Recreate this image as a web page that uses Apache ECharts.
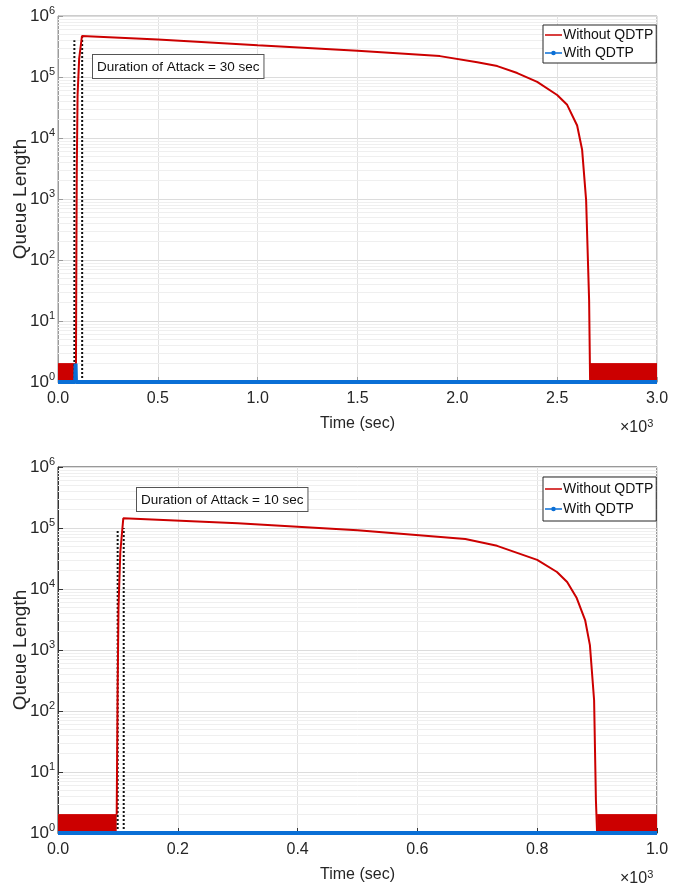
<!DOCTYPE html>
<html><head><meta charset="utf-8">
<script src="https://cdn.jsdelivr.net/npm/echarts@6/dist/echarts.min.js"></script>
<style>html,body{margin:0;padding:0;background:#fff}#c{width:681px;height:888px}</style>
</head><body><div id="c"></div>
<script>
// ---------- DATA (time in seconds, queue length) ----------
// Top chart: attack of 30 sec, x axis 0..3000 s
const topRedCurve = [[90,2],[92,100],[94,3000],[98,50000],[106,200000],[120,470000],[500,410000],[1000,330000],[1500,270000],[1913,220000],[2100,175000],[2200,151000],[2300,116000],[2400,83000],[2500,50700],[2550,35000],[2600,16000],[2625,6400],[2645,960],[2660,22],[2665,1]];
const topRedOsc1 = [[0,2],[90,2]];
const topRedOsc2 = [[2665,2],[3000,2]];
const topBlue = [[0,1],[86,1],[88,2],[90,1],[3000,1]];
const topDot1 = [[82,1],[82,400000]];
const topDot2 = [[121,1],[121,470000]];
// Bottom chart: attack of 10 sec, x axis 0..1000 s
const botRedCurve = [[98,2],[99.5,200],[101,5000],[104,40000],[109,144000],[300,120000],[500,92000],[680,66000],[733,51000],[800,30000],[833,19000],[850,13000],[866,7100],[880,3100],[888,1200],[895,150],[898,3.5],[900,1]];
const botRedOsc1 = [[0,2],[98,2]];
const botRedOsc2 = [[900,2],[1000,2]];
const botBlue = [[0,1],[1000,1]];
const botDot1 = [[99.6,1],[99.6,96000]];
const botDot2 = [[109.7,1],[109.7,100000]];
const topXTicks = {min:0, max:3000, interval:500};
const botXTicks = {min:0, max:1000, interval:200};
const annTop = 'Duration of Attack = 30 sec';
const annBot = 'Duration of Attack = 10 sec';
const legendNames = ['Without QDTP','With QDTP'];

// ---------- STYLE ----------
const FONT = 'Liberation Sans, Arial, Helvetica, sans-serif';
const RED = '#cc0000';
const BLUE = '#0a6fd6';
const TXT = '#262626';
const ICON_LINE = 'path://M0,0h0.01v0.01h-0.01z M0,4.1h20v1.8h-20z M0,9.99h0.01v0.01h-0.01z';
const ICON_LINE_DOT = 'path://M0,0h0.01v0.01h-0.01z M0,4.1h20v1.8h-20z M7.3,5a2.7,2.7 0 1,1 5.4,0a2.7,2.7 0 1,1 -5.4,0z M0,9.99h0.01v0.01h-0.01z';

const minorVals = [];
for (let d = 0; d < 6; d++) for (let m = 2; m <= 9; m++) minorVals.push({yAxis: m * Math.pow(10, d)});

function yLabel(v){ const e = Math.round(Math.log10(v)); return '{b|10}{s|' + e + '}'; }
const yRich = {
  b:{fontSize:17, color:TXT, fontFamily:FONT},
  s:{fontSize:11, color:TXT, fontFamily:FONT, verticalAlign:'bottom', padding:[0,0,10,0]}
};

function xAxis(idx, t, axisColor){
  return {
    type:'value', gridIndex:idx, min:t.min, max:t.max, interval:t.interval,
    name:'Time (sec)', nameLocation:'middle', nameGap:34,
    nameTextStyle:{fontSize:16, color:TXT, fontFamily:FONT},
    axisLine:{show:true, onZero:false, lineStyle:{color:axisColor}},
    axisTick:{show:true, inside:true, length:5, lineStyle:{color:axisColor}},
    axisLabel:{fontSize:16, color:TXT, fontFamily:FONT, margin:9,
      formatter:v => (v/1000).toFixed(1)},
    splitLine:{show:true, lineStyle:{color:'#e2e2e2'}}
  };
}
function yAxis(idx, axisColor){
  return {
    type:'log', logBase:10, gridIndex:idx, min:1, max:1e6,
    name:'Queue Length', nameLocation:'middle', nameGap:28, nameMoveOverlap:false,
    nameTextStyle:{fontSize:19, color:TXT, fontFamily:FONT},
    axisLine:{show:true, lineStyle:{color:axisColor}},
    axisTick:{show:true, inside:true, length:5, lineStyle:{color:axisColor}},
    axisLabel:{formatter:yLabel, rich:yRich, margin:3},
    splitLine:{show:true, lineStyle:{color:'#dcdcdc'}}
  };
}

function seriesFor(idx, redCurve, osc1, osc2, blue, d1, d2){
  const base = {xAxisIndex:idx, yAxisIndex:idx, animation:false};
  return [
    Object.assign({}, base, {type:'line', name:'grid-minor'+idx, data:[], symbol:'none', z:1,
      markLine:{silent:true, symbol:'none', label:{show:false}, z:1,
        lineStyle:{color:'#efefef', type:'solid', width:1}, data:minorVals}}),
    Object.assign({}, base, {type:'line', name:'osc1_'+idx, data:osc1, symbol:'none',
      lineStyle:{color:RED, width:1}, areaStyle:{color:RED, opacity:1, origin:'start'}, z:3}),
    Object.assign({}, base, {type:'line', name:'osc2_'+idx, data:osc2, symbol:'none',
      lineStyle:{color:RED, width:1}, areaStyle:{color:RED, opacity:1, origin:'start'}, z:3}),
    Object.assign({}, base, {type:'line', name:'dot1_'+idx, data:d1, symbol:'none',
      lineStyle:{color:'#111', width:2, type:[2,2]}, z:4}),
    Object.assign({}, base, {type:'line', name:'dot2_'+idx, data:d2, symbol:'none',
      lineStyle:{color:'#111', width:2, type:[2,2]}, z:4}),
    Object.assign({}, base, {type:'line', name:'Without QDTP', data:redCurve, symbol:'none',
      lineStyle:{color:RED, width:2}, itemStyle:{color:RED}, z:5}),
    Object.assign({}, base, {type:'line', name:'With QDTP', data:blue, symbol:'circle', symbolSize:5,
      showSymbol:false, lineStyle:{color:BLUE, width:4}, itemStyle:{color:BLUE}, z:6})
  ];
}

function legend(left, top, gap, pad){
  return {
    data:[{name:legendNames[0], icon:ICON_LINE}, {name:legendNames[1], icon:ICON_LINE_DOT}],
    left:left, top:top, orient:'vertical', itemGap:gap, z:100,
    itemWidth:17, itemHeight:10, padding:pad,
    backgroundColor:'#fff', borderColor:'#262626', borderWidth:1, borderRadius:0,
    textStyle:{fontSize:14, color:'#111', fontFamily:FONT, padding:[0,0,0,-4]},
    selectedMode:false
  };
}

function annot(x, y, txt){
  return {type:'text', left:x, top:y, z:50,
    style:{text:txt, fontSize:13.5, fontFamily:FONT, fill:'#111',
      backgroundColor:'#fff', borderColor:'#555', borderWidth:1, padding:[5,4,4,4]}};
}
function scale(x, y){
  return {type:'text', left:x, top:y, z:50,
    style:{text:'×10{s|3}', fontSize:16, fontFamily:FONT, fill:TXT,
      rich:{s:{fontSize:11, fill:TXT, fontFamily:FONT, verticalAlign:'bottom', padding:[0,0,9,0]}}}};
}

const chart = echarts.init(document.getElementById('c'), null, {renderer:'canvas'});
chart.setOption({
  backgroundColor:'#fff',
  animation:false,
  grid:[
    {left:58, top:16, width:599, height:366, show:true, borderColor:'#9a9a9a', borderWidth:1, backgroundColor:'transparent', containLabel:false, outerBoundsMode:'none'},
    {left:58, top:467, width:599, height:366, show:true, borderColor:'#333', borderWidth:1, backgroundColor:'transparent', containLabel:false, outerBoundsMode:'none'}
  ],
  xAxis:[xAxis(0, topXTicks, '#9a9a9a'), xAxis(1, botXTicks, '#333')],
  yAxis:[yAxis(0, '#9a9a9a'), yAxis(1, '#333')],
  legend:[legend(543, 25, 4, [3,3,3,2]), legend(543, 477, 6, [5,3,5,2])],
  graphic:[annot(92, 54, annTop), annot(136, 487, annBot), scale(620, 418), scale(620, 869)],
  series:[].concat(
    seriesFor(0, topRedCurve, topRedOsc1, topRedOsc2, topBlue, topDot1, topDot2),
    seriesFor(1, botRedCurve, botRedOsc1, botRedOsc2, botBlue, botDot1, botDot2)
  )
});
</script></body></html>
